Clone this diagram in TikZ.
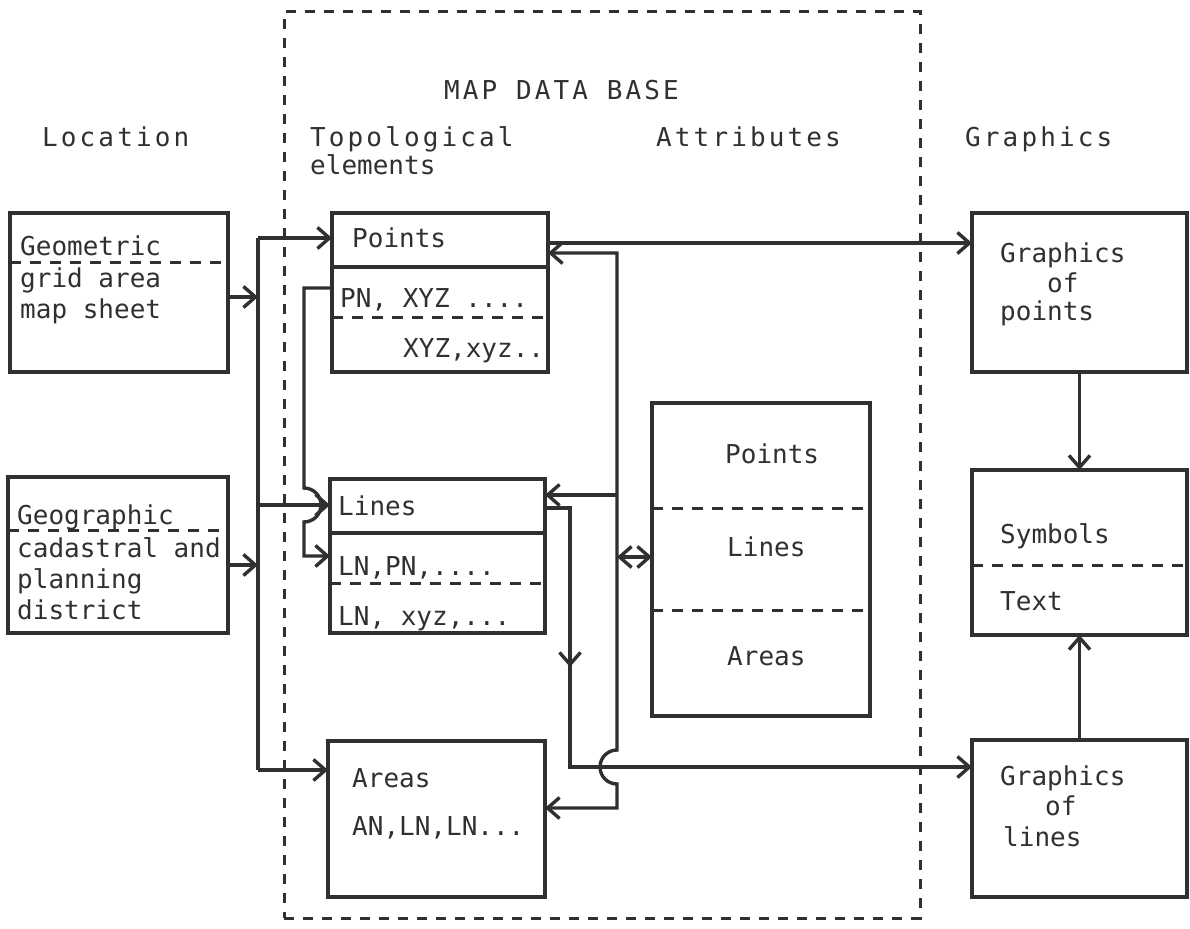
\documentclass[tikz,border=0pt]{standalone}
\usepackage{fontspec}
\usetikzlibrary{arrows.meta}
\newfontfamily\tw{DejaVu Sans Mono}
\newfontfamily\twh[LetterSpace=12]{DejaVu Sans Mono}
\definecolor{ink}{HTML}{303030}
\begin{document}
\begin{tikzpicture}[x=1pt,y=-1pt,
  box/.style={draw=ink, line width=3.4pt, inner sep=0pt, outer sep=0pt, anchor=north west},
  txt/.style={anchor=base west, inner sep=0pt, text=ink, font=\tw\fontsize{26}{30}\selectfont},
  head/.style={txt, font=\twh\fontsize{26}{30}\selectfont},
  wire/.style={draw=ink, line width=3.4pt, line join=miter},
  arr/.style={wire, -{Straight Barb[length=12pt,width=21pt]}},
  dblarr/.style={wire, {Straight Barb[length=12pt,width=21pt]}-{Straight Barb[length=12pt,width=21pt]}},
  rule/.style={draw=ink, line width=3.2pt},
  divdash/.style={draw=ink, line width=3pt, dash pattern=on 11pt off 9pt},
  frame/.style={draw=ink, line width=3pt, dash pattern=on 10pt off 9pt}]
\useasboundingbox (0,0) rectangle (1190,928);

% map data base frame
\node[box, frame, minimum width=636, minimum height=906] (db) at (284,12) {};

% column headings
\node[head] (hMap) at (444,100) {MAP DATA BASE};
\node[head] (hLoc) at (42,147) {Location};
\node[head] (hTop) at (310,147) {Topological};
\node[txt]  (hEl)  at (310,175) {elements};
\node[head] (hAtt) at (656,147) {Attributes};
\node[head] (hGr)  at (965,147) {Graphics};

% location boxes
\node[box, minimum width=218, minimum height=159] (geo) at (10,213) {};
\draw[divdash] (geo.west |- 0,262) -- (geo.east |- 0,262);
\node[txt] (tGeo1) at (20,255) {Geometric};
\node[txt] (tGeo2) at (20,287) {grid area};
\node[txt] (tGeo3) at (20,318) {map sheet};

\node[box, minimum width=220, minimum height=156] (geog) at (8,477) {};
\draw[divdash] (geog.west |- 0,530) -- (geog.east |- 0,530);
\node[txt] (tGg1) at (17,524) {Geographic};
\node[txt] (tGg2) at (17,557) {cadastral and};
\node[txt] (tGg3) at (17,588) {planning};
\node[txt] (tGg4) at (17,619) {district};

% topological elements
\node[box, minimum width=216, minimum height=159] (pts) at (332,213) {};
\draw[rule] (pts.west |- 0,267) -- (pts.east |- 0,267);
\draw[divdash] (pts.west |- 0,317) -- (pts.east |- 0,317);
\node[txt] (tP1) at (352,247) {Points};
\node[txt] (tP2) at (340,307) {PN, XYZ ....};
\node[txt] (tP3) at (403,357) {XYZ,xyz..};

\node[box, minimum width=215, minimum height=154] (lns) at (330,479) {};
\draw[rule] (lns.west |- 0,533) -- (lns.east |- 0,533);
\draw[divdash] (lns.west |- 0,583) -- (lns.east |- 0,583);
\node[txt] (tL1) at (338,515) {Lines};
\node[txt] (tL2) at (338,575) {LN,PN,....};
\node[txt] (tL3) at (338,625) {LN, xyz,...};

\node[box, minimum width=217, minimum height=156] (ars) at (328,741) {};
\node[txt] (tA1) at (352,787) {Areas};
\node[txt] (tA2) at (352,835) {AN,LN,LN...};

% attributes
\node[box, minimum width=218, minimum height=313] (att) at (652,403) {};
\draw[divdash] (att.west |- 0,508) -- (att.east |- 0,508);
\draw[divdash] (att.west |- 0,610) -- (att.east |- 0,610);
\node[txt] (tT1) at (725,463) {Points};
\node[txt] (tT2) at (727,556) {Lines};
\node[txt] (tT3) at (727,665) {Areas};

% graphics
\node[box, minimum width=215, minimum height=159] (gpt) at (972,213) {};
\node[txt] (tG1) at (1000,262) {Graphics};
\node[txt] (tG2) at (1047,292) {of};
\node[txt] (tG3) at (1000,320) {points};

\node[box, minimum width=215, minimum height=165] (sym) at (972,470) {};
\draw[divdash] (sym.west |- 0,565) -- (sym.east |- 0,565);
\node[txt] (tS1) at (1000,543) {Symbols};
\node[txt] (tS2) at (1000,610) {Text};

\node[box, minimum width=215, minimum height=157] (gln) at (972,740) {};
\node[txt] (tH1) at (1000,785) {Graphics};
\node[txt] (tH2) at (1045,815) {of};
\node[txt] (tH3) at (1003,846) {lines};

% location bus
\coordinate (busTop) at (258,238);
\coordinate (busLn)  at (258,505);
\coordinate (busBot) at (258,770);
\coordinate (busIn1) at (258,297);
\coordinate (busIn2) at (258,565);
\draw[wire] (busTop) -- (busBot);
\draw[arr] (geo.east |- busIn1) -- (busIn1);
\draw[arr] (geog.east |- busIn2) -- (busIn2);
\draw[arr] (busTop) -- (pts.west |- busTop);
\draw[arr] (busLn) -- (lns.west |- busLn);
\draw[arr] (busBot) -- (ars.west |- busBot);

% point numbers feed the line records (hops over the bus branch)
\coordinate (pnA) at (304,288);
\coordinate (pnB) at (304,556);
\draw[arr] (pts.west |- pnA) -- (pnA) -- (304,488) arc(-90:90:17) -- (pnB) -- (lns.west |- pnB);

% attribute bus
\coordinate (atTop) at (617,253);
\coordinate (atLn)  at (617,495);
\coordinate (atAt)  at (617,557);
\coordinate (atBot) at (617,808);
\draw[dblarr] (pts.east |- atTop) -- (atTop) -- (617,750) arc(-90:-270:17) -- (atBot) -- (ars.east |- atBot);
\draw[arr] (atLn) -- (lns.east |- atLn);
\draw[dblarr] (atAt) -- (att.west |- atAt);

% lines to graphics of lines
\coordinate (lgA) at (570,508);
\coordinate (lgB) at (570,767);
\coordinate (lgM) at (570,667);
\draw[arr] (lns.east |- lgA) -- (lgA) -- (lgB) -- (gln.west |- lgB);
\draw[arr] (lgA) -- (lgM);

% points to graphics of points
\coordinate (pg) at (548,243);
\draw[arr] (pg) -- (gpt.west |- pg);

% graphics to symbols and text
\draw[arr] (gpt.south) -- (sym.north);
\draw[arr] (gln.north) -- (sym.south);
\end{tikzpicture}
\end{document}
